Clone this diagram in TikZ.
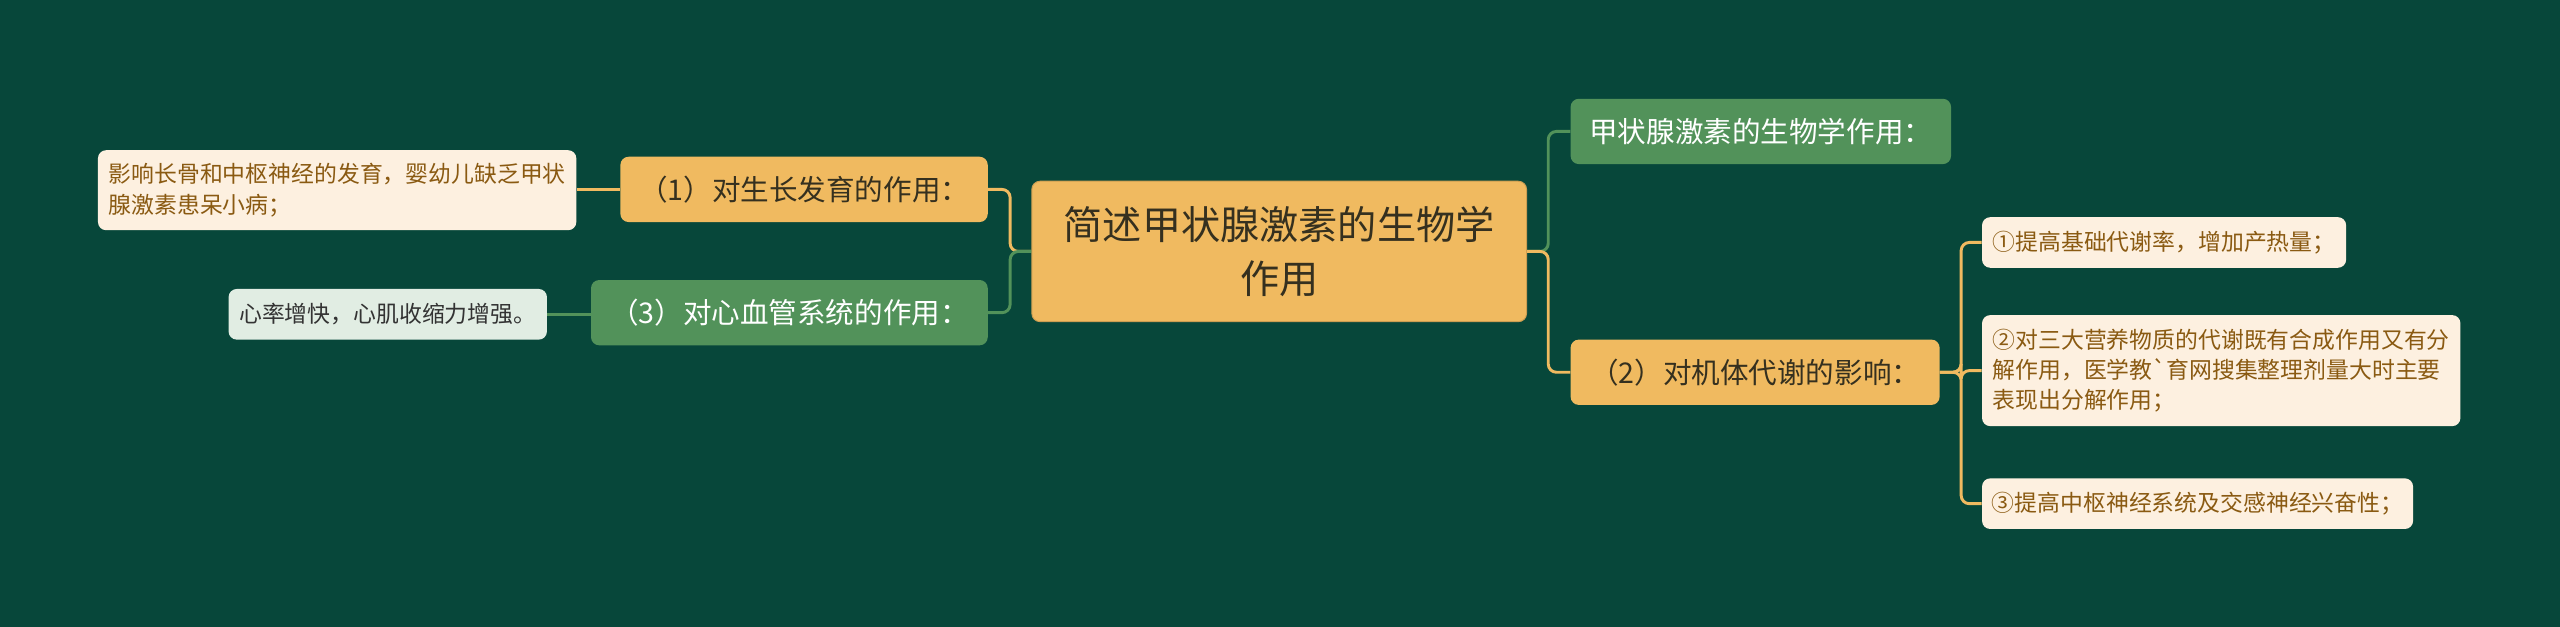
\documentclass[tikz,border=0pt]{standalone}
\usepackage{fontspec}
\setmainfont{Noto Sans CJK SC}
\usepackage{xcolor}
\usetikzlibrary{positioning}

\definecolor{bgdark}{HTML}{07473A}
\definecolor{goldbox}{HTML}{F0BA60}
\definecolor{greenbox}{HTML}{52925A}
\definecolor{creambox}{HTML}{FDF0E0}
\definecolor{mintbox}{HTML}{E1EDE3}
\definecolor{browntext}{HTML}{8A5A12}
\definecolor{darktext}{HTML}{35301F}

\begin{document}
\begin{tikzpicture}[x=1pt, y=-1pt,
    box/.style={rounded corners=5pt, inner sep=0pt},
    rootbox/.style={box, fill=goldbox, draw=goldbox!85!black, line width=0.6pt, align=center,
        text=darktext, minimum width=303pt, minimum height=86pt, font=\fontsize{24}{33}\selectfont},
    goldtopic/.style={box, fill=goldbox, text=darktext, minimum height=40pt, font=\fontsize{17.5}{21}\selectfont},
    greentopic/.style={box, fill=greenbox, text=white, minimum height=40pt, font=\fontsize{17.5}{21}\selectfont},
    leafbox/.style={box, fill=creambox, text=browntext, align=left, font=\fontsize{14}{18.5}\selectfont},
    mintleaf/.style={box, fill=mintbox, text=black!80, align=left, font=\fontsize{14}{18.5}\selectfont},
    goldline/.style={draw=goldbox, line width=1.8pt, rounded corners=5pt},
    greenline/.style={draw=greenbox, line width=1.8pt, rounded corners=5pt}
]

% Background
\fill[bgdark] (0,0) rectangle (1568,384);
\useasboundingbox (0,0) rectangle (1568,384);

% Root
\node[rootbox] (root) at (783.5,154) {简述甲状腺激素的生物学\\作用};

% Left branches
\node[goldtopic, minimum width=225pt] (growth) at (492.5,116) {（1）对生长发育的作用：};
\node[greentopic, minimum width=243pt] (heart) at (483.5,191.5) {（3）对心血管系统的作用：};
\node[leafbox, minimum width=293pt, minimum height=49pt] (growthleaf) at (206.5,116.5)
    {影响长骨和中枢神经的发育，婴幼儿缺乏甲状\\腺激素患呆小病；};
\node[mintleaf, minimum width=195pt, minimum height=31pt] (heartleaf) at (237.5,192.5)
    {心率增快，心肌收缩力增强。};

% Right branches
\node[greentopic, minimum width=233pt] (bio) at (1078.5,80.5) {甲状腺激素的生物学作用：};
\node[goldtopic, minimum width=226pt] (meta) at (1075,228) {（2）对机体代谢的影响：};
\node[leafbox, minimum width=223pt, minimum height=31pt] (metaA) at (1325.5,148.5)
    {①提高基础代谢率，增加产热量；};
\node[leafbox, minimum width=293pt, minimum height=68pt] (metaB) at (1360.5,227)
    {②对三大营养物质的代谢既有合成作用又有分\\解作用，医学教\textasciigrave 育网搜集整理剂量大时主要\\表现出分解作用；};
\node[leafbox, minimum width=264pt, minimum height=31pt] (metaC) at (1346,308.5)
    {③提高中枢神经系统及交感神经兴奋性；};

% Connectors, left side
\draw[goldline] (root.west) -- ++(-13,0) |- (growth.east);
\draw[greenline] (root.west) -- ++(-13,0) |- (heart.east);
\draw[goldline] (growthleaf.east |- growth.west) -- (growth.west);
\draw[greenline] (heartleaf.east) -- (heart.west |- heartleaf.east);

% Connectors, right side
\draw[greenline] (root.east) -- ++(13,0) |- (bio.west);
\draw[goldline] (root.east) -- ++(13,0) |- (meta.west);
\draw[goldline] (meta.east) -- ++(13,0) |- (metaA.west);
\draw[goldline] (meta.east) -- ++(13,0) |- (metaB.west);
\draw[goldline] (meta.east) -- ++(13,0) |- (metaC.west);

\end{tikzpicture}
\end{document}
